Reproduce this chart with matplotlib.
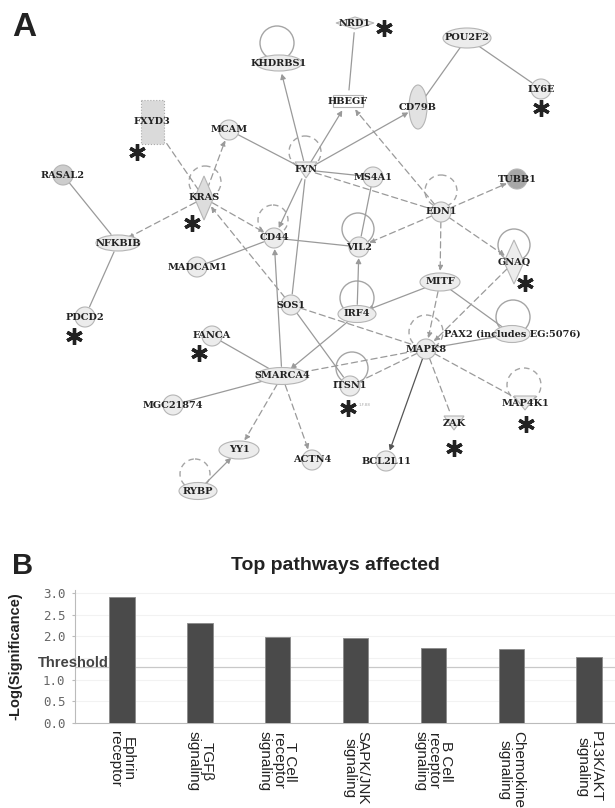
import matplotlib
matplotlib.use("Agg")
import matplotlib.pyplot as plt
from matplotlib.patches import Circle, Ellipse, Polygon, Rectangle, FancyArrowPatch
from matplotlib.transforms import blended_transform_factory

# ---------------- network (panel A) ----------------
genes = ["KHDRBS1", "NRD1", "POU2F2", "LY6E", "HBEGF", "CD79B", "FXYD3", "MCAM",
         "RASAL2", "FYN", "MS4A1", "TUBB1", "KRAS", "EDN1", "CD44", "NFKBIB",
         "VIL2", "GNAQ", "MADCAM1", "MITF", "SOS1", "IRF4", "PDCD2", "PAX2",
         "FANCA", "MAPK8", "SMARCA4", "ITSN1", "MGC21874", "MAP4K1", "ZAK",
         "YY1", "ACTN4", "BCL2L11", "RYBP"]
gene_x = [279, 355, 467, 541, 348, 418, 152, 229, 63, 306, 373, 517, 204, 441,
          274, 118, 359, 514, 197, 440, 291, 357, 85, 512, 212, 426, 282, 350,
          173, 525, 454, 239, 312, 386, 198]
gene_y = [63, 23, 38, 89, 101, 107, 122, 130, 175, 170, 177, 179, 198, 212, 238,
          243, 247, 262, 267, 282, 305, 314, 317, 334, 336, 349, 376, 386, 405,
          403, 423, 450, 460, 461, 491]
labels = {"PAX2": "PAX2 (includes EG:5076)"}

shape = {"KHDRBS1": ("ellipse", 46, 16), "NRD1": ("diamond", 38, 12),
         "POU2F2": ("ellipse", 48, 20), "HBEGF": ("rect", 30, 12),
         "CD79B": ("ellipse", 18, 44), "FXYD3": ("box", 23, 44),
         "FYN": ("tri", 22, 16), "KRAS": ("diamond", 19, 44),
         "NFKBIB": ("ellipse", 44, 16), "GNAQ": ("diamond", 20, 44),
         "MITF": ("ellipse", 40, 18), "IRF4": ("ellipse", 38, 17),
         "PAX2": ("ellipse", 36, 17), "SMARCA4": ("ellipse", 52, 17),
         "YY1": ("ellipse", 40, 18), "RYBP": ("ellipse", 38, 17),
         "ZAK": ("tri", 20, 14), "MAP4K1": ("tri", 22, 14)}
fills = {"RASAL2": "#cdcdcd", "TUBB1": "#a8a8a8", "FXYD3": "#dadada",
         "KRAS": "#dddddd", "CD79B": "#e2e2e2"}

# self loops: gene -> (centre x, centre y, radius, style)
loops = {"KHDRBS1": (277, 43, 17, "-"), "FYN": (305, 152, 16, "--"),
         "KRAS": (205, 182, 16, "--"), "EDN1": (441, 191, 16, "--"),
         "CD44": (273, 220, 15, "--"), "VIL2": (358, 229, 16, "-"),
         "GNAQ": (514, 245, 16, "-"), "IRF4": (357, 298, 17, "-"),
         "PAX2": (513, 317, 17, "-"), "MAPK8": (426, 332, 17, "--"),
         "ITSN1": (352, 368, 16, "-"), "MAP4K1": (524, 385, 17, "--"),
         "RYBP": (195, 474, 15, "--")}

star_x = [384, 541, 137, 192, 525, 74, 199, 348, 526, 454]
star_y = [28, 108, 152, 223, 283, 336, 353, 408, 424, 448]

# (source, target, line style, arrowhead at target)
links = [("FYN", "KHDRBS1", "-", True), ("NRD1", "HBEGF", "-", False),
         ("POU2F2", "CD79B", "-", False), ("POU2F2", "LY6E", "-", False),
         ("FYN", "HBEGF", "-", True), ("FYN", "CD79B", "-", True),
         ("EDN1", "HBEGF", "--", True), ("KRAS", "FXYD3", "--", True),
         ("KRAS", "MCAM", "--", True), ("MCAM", "FYN", "-", False),
         ("RASAL2", "NFKBIB", "-", False), ("KRAS", "NFKBIB", "--", True),
         ("KRAS", "CD44", "--", True), ("FYN", "MS4A1", "-", False),
         ("FYN", "EDN1", "--", False), ("FYN", "CD44", "-", True),
         ("FYN", "SOS1", "-", False), ("SMARCA4", "CD44", "-", True),
         ("EDN1", "TUBB1", "--", True),
         ("EDN1", "VIL2", "--", True), ("EDN1", "GNAQ", "--", True),
         ("EDN1", "MITF", "--", True), ("MS4A1", "VIL2", "-", False),
         ("CD44", "VIL2", "-", False), ("MADCAM1", "CD44", "-", False),
         ("IRF4", "VIL2", "-", True), ("SOS1", "KRAS", "--", True),
         ("MITF", "IRF4", "-", True), ("MITF", "PAX2", "-", False),
         ("MITF", "MAPK8", "--", True), ("GNAQ", "MAPK8", "--", True),
         ("SOS1", "MAPK8", "--", False), ("SOS1", "ITSN1", "-", False),
         ("IRF4", "SMARCA4", "-", True), ("PAX2", "MAPK8", "-", False),
         ("MAPK8", "SMARCA4", "--", True), ("MAPK8", "ITSN1", "--", False),
         ("MAPK8", "BCL2L11", "-", True), ("MAPK8", "ZAK", "--", False),
         ("MAPK8", "MAP4K1", "--", False), ("FANCA", "SMARCA4", "-", False),
         ("MGC21874", "SMARCA4", "-", False), ("SMARCA4", "YY1", "--", True),
         ("SMARCA4", "ACTN4", "--", True), ("RYBP", "YY1", "-", True),
         ("NFKBIB", "PDCD2", "-", False)]

# ---------------- bar chart (panel B) ----------------
pathways = ["Ephrin\nreceptor", "TGFβ\nsignaling", "T Cell\nreceptor\nsignaling",
            "SAPK/JNK\nsignaling", "B Cell\nreceptor\nsignaling",
            "Chemokine\nsignaling", "P13K/AKT\nsignaling"]
neglog_p = [2.91, 2.31, 1.99, 1.97, 1.72, 1.70, 1.53]
threshold = 1.3
y_ticks = [0, 0.5, 1.0, 1.5, 2.0, 2.5, 3.0]
# the 1.5 label sits under the "Threshold" tag, so it is left blank
y_ticklabels = ["0.0", "0.5", "1.0", "", "2.0", "2.5", "3.0"]

W, H = 615, 808
fig = plt.figure(figsize=(W / 100, H / 100), dpi=100)
fig.patch.set_facecolor("white")

# network axes in pixel units
axA = fig.add_axes([0, 1 - 540 / H, 1, 540 / H])
axA.set_xlim(0, W)
axA.set_ylim(540, 0)
axA.axis("off")

pos = {g: (x, y) for g, x, y in zip(genes, gene_x, gene_y)}
edge_col = "#9a9a9a"
node_edge = "#b5b5b5"

for g, (cx, cy, r, ls) in loops.items():
    axA.add_patch(Circle((cx, cy), r, fill=False, ec="#a5a5a5", lw=1.0,
                         ls=(0, (4, 3)) if ls == "--" else "-", zorder=1))

for a, b, ls, head in links:
    col = "#555555" if (a, b) == ("MAPK8", "BCL2L11") else edge_col
    arr = FancyArrowPatch(pos[a], pos[b],
                          arrowstyle="-|>,head_length=3,head_width=1.6" if head else "-",
                          shrinkA=7, shrinkB=8, lw=0.9, color=col,
                          linestyle=(0, (5, 3)) if ls == "--" else "-",
                          zorder=2)
    axA.add_patch(arr)

for g in genes:
    x, y = pos[g]
    kind, w, h = shape.get(g, ("circle", 20, 20))
    fc = fills.get(g, "#ececec")
    if kind == "circle":
        p = Circle((x, y), w / 2, fc=fc, ec=node_edge, lw=0.8)
    elif kind == "ellipse":
        p = Ellipse((x, y), w, h, fc=fc, ec=node_edge, lw=0.8)
    elif kind == "diamond":
        p = Polygon([(x, y - h / 2), (x + w / 2, y), (x, y + h / 2), (x - w / 2, y)],
                    closed=True, fc=fc, ec=node_edge, lw=0.8)
    elif kind == "tri":
        p = Polygon([(x - w / 2, y - h / 2), (x + w / 2, y - h / 2), (x, y + h / 2)],
                    closed=True, fc=fc, ec=node_edge, lw=0.8)
    elif kind == "box":
        p = Rectangle((x - w / 2, y - h / 2), w, h, fc=fc, ec="#aaaaaa", lw=0.8,
                      ls=":")
    else:
        p = Rectangle((x - w / 2, y - h / 2), w, h, fc="white", ec=node_edge, lw=0.8)
    p.set_zorder(3)
    axA.add_patch(p)
    axA.text(x, y, labels.get(g, g), ha="center", va="center", fontsize=7,
             fontweight="bold", family="DejaVu Serif", color="#222222", zorder=4)

axA.plot(star_x, star_y, ls="none", marker=(6, 2, 0), ms=12, mew=2.4,
         color="#222222", zorder=5)
axA.text(365, 405, "1.F.88", fontsize=3, color="#aaaaaa", ha="center", va="center")

fig.text(12 / W, 1 - 28 / H, "A", fontsize=24, fontweight="bold",
         family="Liberation Sans", color="#222222", va="center", ha="left")
fig.text(12 / W, 1 - 566 / H, "B", fontsize=21, fontweight="bold",
         family="Liberation Sans", color="#222222", va="center", ha="left")

# bar chart axes
ymax = 3.08
axB = fig.add_axes([75 / W, 1 - 723 / H, 540 / W, ymax * 43.33 / H])
xs = list(range(len(pathways)))
axB.bar(xs, neglog_p, width=0.33, color="#4a4a4a", edgecolor="#8a8a8a", lw=0.6,
        zorder=3)
axB.set_xlim(-0.6, 6.33)
axB.set_ylim(0, ymax)
axB.set_yticks(y_ticks)
axB.set_yticklabels(y_ticklabels, family="DejaVu Sans Mono", fontsize=9,
                    color="#666666")
axB.set_xticks(xs)
axB.set_xticklabels(pathways, rotation=270, ha="center", va="top",
                    family="Liberation Sans", fontsize=11, color="#222222",
                    linespacing=0.9)
axB.tick_params(axis="x", length=0, pad=6)
axB.tick_params(axis="y", length=2, color="#bbbbbb", pad=5)
for side in ("top", "right"):
    axB.spines[side].set_visible(False)
for side in ("left", "bottom"):
    axB.spines[side].set_color("#bbbbbb")
    axB.spines[side].set_linewidth(0.8)
axB.grid(axis="y", color="#f2f2f2", lw=0.8, zorder=0)
axB.axhline(threshold, color="#c8c8c8", lw=0.9, zorder=2)
tr = blended_transform_factory(axB.transAxes, axB.transData)
axB.text(-37 / 540, threshold + 0.08, "Threshold", transform=tr, ha="left",
         va="center", fontsize=10.5, fontweight="bold", family="Liberation Sans",
         color="#444444", zorder=6, clip_on=False)
axB.set_ylabel("-Log(Significance)", fontsize=10.5, fontweight="bold",
               family="Liberation Sans", color="#222222")
axB.yaxis.set_label_coords(-53 / 540, 0.5)
fig.text(335 / W, 1 - 566 / H, "Top pathways affected", fontsize=14,
         fontweight="bold", family="Liberation Sans", color="#222222",
         ha="center", va="center")

fig.savefig("out.png", dpi=100, facecolor="white")
